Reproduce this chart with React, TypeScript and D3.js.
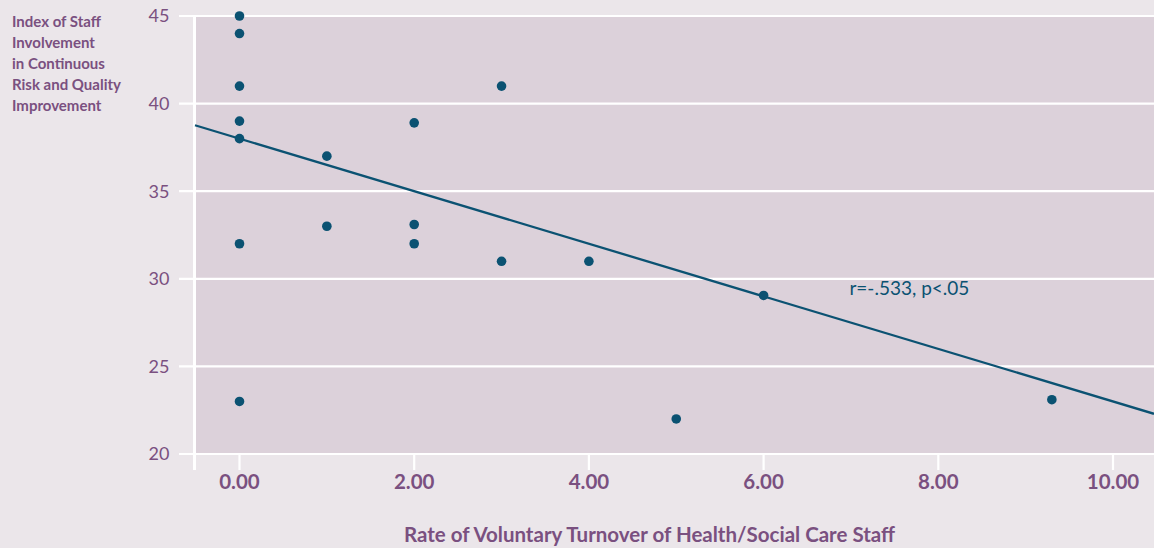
import React from "react";
import * as d3 from "d3";

// ---- data ----
const turnover = [0, 0, 0, 0, 0, 0, 0, 1, 1, 2, 2, 2, 3, 3, 4, 5, 6, 9.3];
const involvement = [45, 44, 41, 39, 38, 32, 23, 37, 33, 38.9, 33.1, 32, 41, 31, 31, 22, 29.05, 23.1];
const xTicks = [0, 2, 4, 6, 8, 10];
const yTicks = [20, 25, 30, 35, 40, 45];
const trendIntercept = 38.0;
const trendSlope = -1.5;
const annotation = "r=-.533, p<.05";
const annotationX = 7.0;
const annotationY = 29.05;
const xTitle = "Rate of Voluntary Turnover of Health/Social Care Staff";
const yTitleLines = ["Index of Staff", "Involvement", "in Continuous", "Risk and Quality", "Improvement"];

const W = 1154;
const H = 548;
const plotLeft = 195;
const plotRight = 1154;
const plotTop = 16;
const plotBottom = 454;

const PAGE_BG = "#ebe6ea";
const PLOT_BG = "#dcd1da";
const TEXT = "#7a5080";
const DOT = "#0b5272";
const FONT = "Lato, 'Open Sans', sans-serif";

export default function App() {
  const x = d3.scaleLinear().domain([0, 10]).range([239.5, 1113]);
  const y = d3.scaleLinear().domain([20, 45]).range([plotBottom, plotTop]);

  const points = turnover.map((t, i) => ({ t, v: involvement[i] }));
  const x0 = x.invert(plotLeft);
  const x1 = x.invert(plotRight);
  const trend = d3.line<number>()
    .x((d) => x(d))
    .y((d) => y(trendIntercept + trendSlope * d));

  return (
    <div style={{ position: "fixed", left: 0, top: 0, width: W, height: H, background: PAGE_BG }}>
      <svg width={W} height={H} style={{ display: "block", fontFamily: FONT }}>
        <rect x={0} y={0} width={W} height={H} fill={PAGE_BG} />
        <rect x={plotLeft} y={plotTop} width={plotRight - plotLeft} height={plotBottom - plotTop} fill={PLOT_BG} />

        {/* horizontal gridlines + y ticks */}
        {yTicks.map((v) => (
          <g key={"y" + v}>
            <line x1={179} x2={plotRight} y1={y(v)} y2={y(v)} stroke="#ffffff" strokeWidth={2.2} />
            <text x={169.5} y={y(v)} dy="0.36em" textAnchor="end" fontSize={18} fill={TEXT}>
              {v}
            </text>
          </g>
        ))}

        {/* vertical axis line */}
        <line x1={plotLeft - 0.5} x2={plotLeft - 0.5} y1={plotTop} y2={470} stroke="#ffffff" strokeWidth={3} />

        {/* x ticks */}
        {xTicks.map((v) => (
          <g key={"x" + v}>
            <line x1={x(v)} x2={x(v)} y1={plotBottom} y2={470} stroke="#ffffff" strokeWidth={2.2} />
            <text x={x(v)} y={489} textAnchor="middle" fontSize={20.5} fontWeight={700} fill={TEXT}>
              {d3.format(".2f")(v)}
            </text>
          </g>
        ))}

        {/* trend line */}
        <path d={trend([x0, x1]) || ""} fill="none" stroke={DOT} strokeWidth={2.3} />

        {/* points */}
        {points.map((p, i) => (
          <circle key={i} cx={x(p.t)} cy={y(p.v)} r={4.8} fill={DOT} />
        ))}

        {/* annotation */}
        <text x={x(annotationX) - 1.5} y={y(annotationY)} fontSize={19} fill={DOT}>
          {annotation}
        </text>

        {/* y title */}
        {yTitleLines.map((line, i) => (
          <text key={line} x={12} y={26.5 + i * 21} fontSize={15} fontWeight={700} fill={TEXT}>
            {line}
          </text>
        ))}

        {/* x title */}
        <text x={649.5} y={542} textAnchor="middle" fontSize={20.5} fontWeight={700} fill={TEXT}>
          {xTitle}
        </text>
      </svg>
    </div>
  );
}
